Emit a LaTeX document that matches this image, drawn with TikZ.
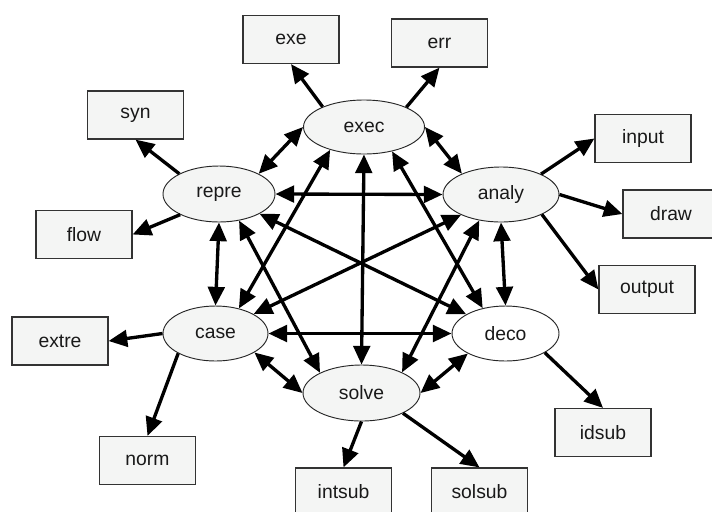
\documentclass[tikz,border=0pt]{standalone}
\usepackage{fontspec}
\setmainfont{Liberation Sans}
\usetikzlibrary{arrows.meta,shapes.geometric}
\definecolor{fillg}{HTML}{F4F5F4}
\definecolor{edgeg}{HTML}{333333}
\tikzset{
  ell/.style={ellipse,draw=black!85,line width=0.7pt,fill=fillg,inner sep=0pt,
    font=\fontsize{14.5}{17}\selectfont,text=black!90},
  box/.style={rectangle,draw=edgeg,line width=0.9pt,fill=fillg,inner sep=0pt,
    minimum width=72pt,minimum height=36pt,font=\fontsize{14.5}{17}\selectfont,text=black!90},
  conn/.style={line width=2.5pt,black,-{Triangle[length=14pt,width=12.5pt]}},
  bi/.style={line width=2.5pt,black,{Triangle[length=14pt,width=12.5pt]}-{Triangle[length=14pt,width=12.5pt]}}
}
\begin{document}
\begin{tikzpicture}[x=0.75pt,y=-0.75pt]
\useasboundingbox (0,0) rectangle (712,511);
% ellipses
\node[ell,minimum width=90.75pt,minimum height=40.5pt] (exec) at (364,127) {exec};
\node[ell,minimum width=84pt,minimum height=42pt] (repre) at (219,194) {repre};
\node[ell,minimum width=87pt,minimum height=41.25pt] (analy) at (501,194.5) {analy};
\node[ell,minimum width=78.75pt,minimum height=41.25pt] (case) at (215.5,333.5) {case};
\node[ell,minimum width=80.25pt,minimum height=41.25pt,fill=white] (deco) at (505.5,333.5) {deco};
\node[ell,minimum width=87.75pt,minimum height=42pt] (solve) at (361.5,393) {solve};
% boxes
\node[box] (exe) at (291,39.5) {exe};
\node[box] (err) at (439.5,43) {err};
\node[box] (syn) at (135.5,115) {syn};
\node[box] (flow) at (84,234.5) {flow};
\node[box] (input) at (643,138.5) {input};
\node[box] (draw) at (671,214) {draw};
\node[box] (output) at (647,289.5) {output};
\node[box] (extre) at (60,341) {extre};
\node[box] (norm) at (147.5,460.5) {norm};
\node[box] (idsub) at (603,432.5) {idsub};
\node[box] (intsub) at (343.5,492) {intsub};
\node[box] (solsub) at (479.5,492) {solsub};
% complete graph between ellipses
\draw[bi] (exec.180) -- (repre.27);
\draw[bi] (exec.0) -- (analy.152);
\draw[bi] (exec.214) -- (case.47);
\draw[bi] (exec.south) -- (solve.north);
\draw[bi] (exec.319) -- (deco.132);
\draw[bi] (repre.east) -- (analy.west);
\draw[bi] (repre.south) -- (case.north);
\draw[bi] (repre.334) -- (deco.154);
\draw[bi] (repre.307) -- (solve.154);
\draw[bi] (analy.207) -- (case.27);
\draw[bi] (analy.230) -- (solve.27);
\draw[bi] (analy.south) -- (deco.north);
\draw[bi] (case.east) -- (deco.west);
\draw[bi] (case.334) -- (solve.west);
\draw[bi] (deco.208) -- (solve.east);
% outgoing
\draw[conn] (exec.154) -- (exe.south);
\draw[conn] (exec.25) -- (err.south);
\draw[conn] (repre.153) -- (syn.south);
\draw[conn] (repre.208) -- (flow.east);
\draw[conn] (analy.27) -- (input.west);
\draw[conn] (analy.east) -- (draw.west);
\draw[conn] (analy.334) -- (output.west);
\draw[conn] (case.west) -- (extre.east);
\draw[conn] (case.208) -- (norm.north);
\draw[conn] (deco.334) -- (idsub.north);
\draw[conn] (solve.south) -- (intsub.north);
\draw[conn] (solve.334) -- (solsub.north);
\end{tikzpicture}
\end{document}
